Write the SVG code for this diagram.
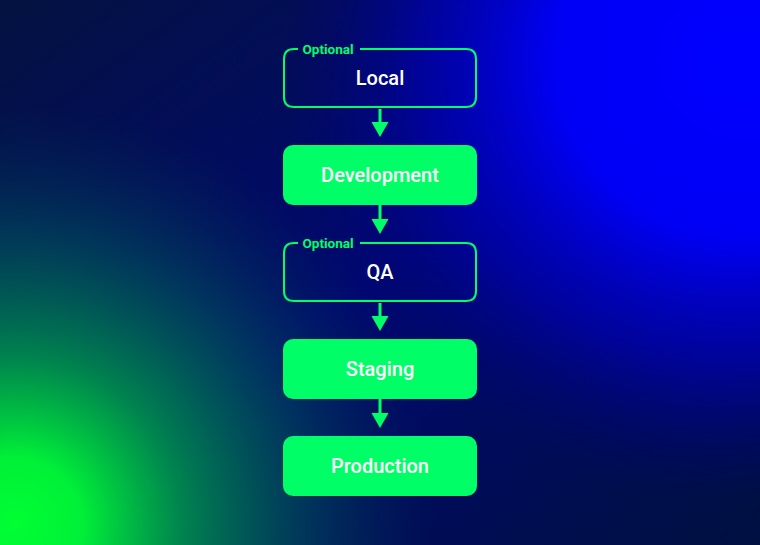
<svg xmlns="http://www.w3.org/2000/svg" width="760" height="545" viewBox="0 0 760 545">
  <defs>
    <radialGradient id="gBlue" cx="0" cy="0" r="1" gradientUnits="userSpaceOnUse" gradientTransform="translate(740 60) scale(460 440)">
      <stop offset="0" stop-color="#0000ff"/>
      <stop offset="0.4" stop-color="#0000f5"/>
      <stop offset="0.7" stop-color="#0000b0" stop-opacity="0.7"/>
      <stop offset="1" stop-color="#000070" stop-opacity="0"/>
    </radialGradient>
    <radialGradient id="gGreen" cx="0" cy="0" r="1" gradientUnits="userSpaceOnUse" gradientTransform="translate(15 525) scale(420 420)">
      <stop offset="0" stop-color="#00ff33"/>
      <stop offset="0.16" stop-color="#00f038"/>
      <stop offset="0.4" stop-color="#00904c" stop-opacity="0.9"/>
      <stop offset="0.7" stop-color="#005058" stop-opacity="0.6"/>
      <stop offset="1" stop-color="#003050" stop-opacity="0"/>
    </radialGradient>
    <linearGradient id="gBase" x1="0" y1="0" x2="1" y2="1">
      <stop offset="0" stop-color="#041240"/>
      <stop offset="0.5" stop-color="#000870"/>
      <stop offset="1" stop-color="#001040"/>
    </linearGradient>
    <style>
      .solid { fill: #00ff66; }
      .outline { fill: none; stroke: #00ff66; stroke-width: 2; }
      .label { font-family: Roboto, "Liberation Sans", sans-serif; font-size: 20px; font-weight: 500; fill: #ffffff; text-anchor: middle; }
      .opt { font-family: Roboto, "Liberation Sans", sans-serif; font-size: 13.5px; font-weight: 700; fill: #00ff66; }
      .conn { stroke: #00ff66; stroke-width: 3; fill: none; }
    </style>
  </defs>
  <rect width="760" height="545" fill="url(#gBase)"/>
  <rect width="760" height="545" fill="url(#gBlue)"/>
  <rect width="760" height="545" fill="url(#gGreen)"/>

  <g id="connectors">
    <line class="conn" x1="380" y1="109" x2="380" y2="124"/>
    <path class="solid" d="M371.5 122 L388.5 122 L380 137 Z"/>
    <line class="conn" x1="380" y1="205" x2="380" y2="221"/>
    <path class="solid" d="M371.5 219 L388.5 219 L380 234 Z"/>
    <line class="conn" x1="380" y1="303" x2="380" y2="318"/>
    <path class="solid" d="M371.5 316 L388.5 316 L380 331 Z"/>
    <line class="conn" x1="380" y1="399" x2="380" y2="415"/>
    <path class="solid" d="M371.5 413 L388.5 413 L380 428 Z"/>
  </g>

  <g id="local">
    <path class="outline" d="M298 49 L294 49 Q284 49 284 59 L284 97 Q284 107 294 107 L466 107 Q476 107 476 97 L476 59 Q476 49 466 49 L360 49"/>
    <text class="opt" x="302.5" y="53.5">Optional</text>
    <text class="label" x="380" y="85">Local</text>
  </g>

  <g id="development">
    <rect class="solid" x="283" y="145" width="194" height="60" rx="10"/>
    <text class="label" x="380" y="182">Development</text>
  </g>

  <g id="qa">
    <path class="outline" d="M298 243 L294 243 Q284 243 284 253 L284 291 Q284 301 294 301 L466 301 Q476 301 476 291 L476 253 Q476 243 466 243 L360 243"/>
    <text class="opt" x="302.5" y="247.5">Optional</text>
    <text class="label" x="380" y="279">QA</text>
  </g>

  <g id="staging">
    <rect class="solid" x="283" y="339" width="194" height="60" rx="10"/>
    <text class="label" x="380" y="376">Staging</text>
  </g>

  <g id="production">
    <rect class="solid" x="283" y="436" width="194" height="60" rx="10"/>
    <text class="label" x="380" y="473">Production</text>
  </g>
</svg>
